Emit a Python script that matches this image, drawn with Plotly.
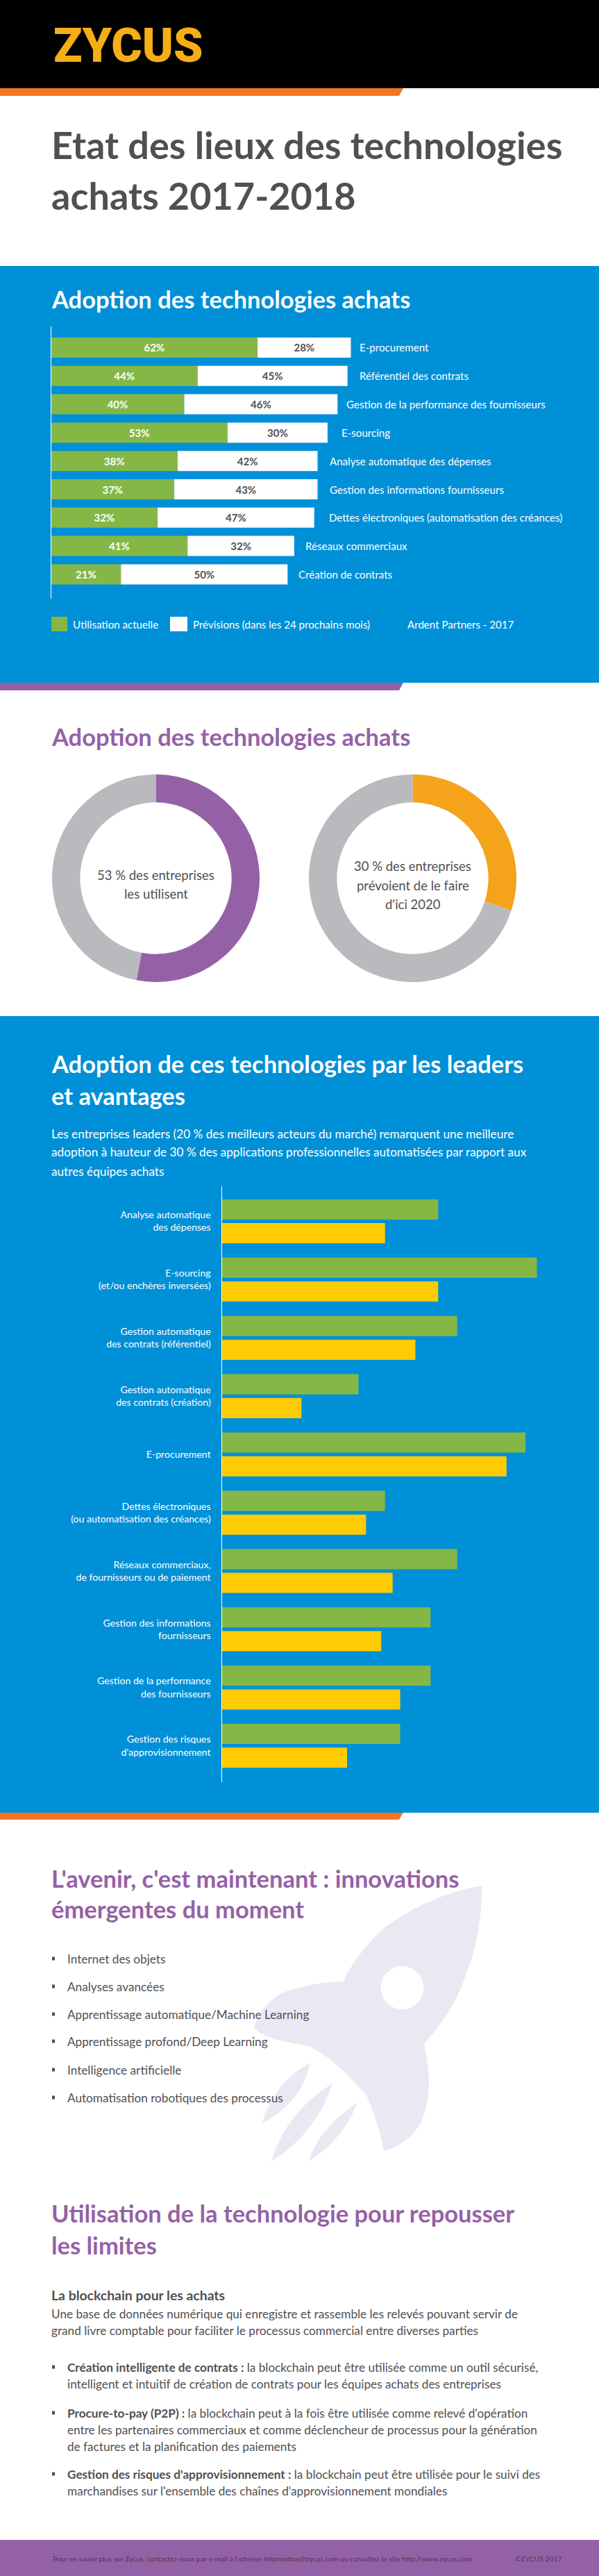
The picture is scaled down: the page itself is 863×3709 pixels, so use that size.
import plotly.graph_objects as go

W, H = 863, 3709
NARROW = "Lato"

# ---------- data ----------
adoption_categories = ["E-procurement", "Référentiel des contrats", "Gestion de la performance des fournisseurs",
                       "E-sourcing", "Analyse automatique des dépenses", "Gestion des informations fournisseurs",
                       "Dettes électroniques (automatisation des créances)", "Réseaux commerciaux", "Création de contrats"]
current_use = [62, 44, 40, 53, 38, 37, 32, 41, 21]
planned_use = [28, 45, 46, 30, 42, 43, 47, 32, 50]

donut_left = [53, 47]
donut_right = [30, 70]

leader_categories = ["Analyse automatique<br>des dépenses", "E-sourcing<br>(et/ou enchères inversées)",
                     "Gestion automatique<br>des contrats (référentiel)", "Gestion automatique<br>des contrats (création)",
                     "E-procurement", "Dettes électroniques<br>(ou automatisation des créances)",
                     "Réseaux commerciaux,<br>de fournisseurs ou de paiement", "Gestion des informations<br>fournisseurs",
                     "Gestion de la performance<br>des fournisseurs", "Gestion des risques<br>d'approvisionnement"]
leaders = [57, 83, 62, 36, 80, 43, 62, 55, 55, 47]
others = [43, 57, 51, 21, 75, 38, 45, 42, 47, 33]

innovations = ["Internet des objets", "Analyses avancées", "Apprentissage automatique/Machine Learning",
               "Apprentissage profond/Deep Learning", "Intelligence artificielle", "Automatisation robotiques des processus"]

# ---------- colours ----------
BLUE = "#0090D7"; GREEN = "#84B746"; YELLOW = "#FFCB05"; ORANGE = "#F47521"
PURPLE = "#9561A6"; GREY = "#B9BABD"; AMBER = "#F4A31A"; DARK = "#505053"; LAV = "#ECE8F3"

T1 = 54    # main title
T2 = 34.5  # section titles
B = 17.2   # body
L = 15.1   # chart labels


def fx(x):
    return x / W


def fy(y):
    return 1 - y / H


shapes = []
ann = []


def rect(x0, y0, x1, y1, color):
    shapes.append(dict(type="rect", xref="paper", yref="paper", x0=fx(x0), x1=fx(x1), y0=fy(y0), y1=fy(y1),
                       fillcolor=color, line_width=0, layer="below"))


def poly(d, color):
    shapes.append(dict(type="path", xref="paper", yref="paper", path=d, fillcolor=color, line_width=0, layer="below"))


def P(x, y):
    return f"{fx(x):.5f},{fy(y):.5f}"


def text(x, y, s, size, color=DARK, bold=False, anchor="left", font=NARROW, weight=None):
    ann.append(dict(xref="paper", yref="paper", x=fx(x), y=fy(y), text=s, showarrow=False, xanchor=anchor,
                    yanchor="middle", borderpad=0, align=anchor,
                    font=dict(family=font, size=size, color=color, weight=weight or (700 if bold else 400))))


def strip(y0, y1, color):
    poly(f"M{P(0,y0)} L{P(581,y0)} L{P(575,y1)} L{P(0,y1)} Z", color)


# ---------- backgrounds ----------
rect(0, 0, W, 127, "#000000")
strip(127, 138, ORANGE)
rect(0, 383, W, 983, BLUE)
strip(983, 994, PURPLE)
rect(0, 1463, W, 2610, BLUE)
strip(2610, 2620, ORANGE)
rect(0, 3657, W, H, PURPLE)

# rocket
poly(f"M{P(694.5,2715)} C{P(650,2722)} {P(590,2745)} {P(545,2783)} C{P(520,2810)} {P(505,2830)} {P(495,2853)} "
     f"C{P(470,2853)} {P(440,2858)} {P(410,2868)} C{P(385,2880)} {P(372,2900)} {P(366,2920)} "
     f"C{P(380,2935)} {P(410,2940)} {P(440,2945)} C{P(470,2955)} {P(500,2985)} {P(528,3017)} "
     f"C{P(540,3045)} {P(548,3070)} {P(553,3097)} C{P(580,3090)} {P(605,3070)} {P(612,3040)} "
     f"C{P(622,3010)} {P(618,2975)} {P(611,2943)} C{P(640,2910)} {P(660,2880)} {P(672,2840)} "
     f"C{P(690,2800)} {P(694,2750)} {P(694.5,2715)} Z", LAV)
shapes.append(dict(type="circle", xref="paper", yref="paper", x0=fx(548.5), x1=fx(610.5), y0=fy(2893), y1=fy(2831),
                   fillcolor="#FFFFFF", line_width=0, layer="below"))
for tip, a, b, c in [((447, 2970), (396, 2997), (377, 3058), (435, 3027)),
                     ((479, 3000), (413, 3040), (390, 3113), (457, 3070)),
                     ((515, 3027), (457, 3067), (445, 3112), (495, 3080))]:
    poly(f"M{P(*tip)} Q{P(*a)} {P(*b)} Q{P(*c)} {P(*tip)} Z", LAV)

# ---------- header ----------
text(76, 66, "ZYCUS", 68, "#F5AE17", True, font="Roboto", weight=900)
text(73, 208, "Etat des lieux des technologies", T1, DARK, True)
text(73, 282, "achats 2017-2018", T1, DARK, True)
text(73, 430, "Adoption des technologies achats", T2, "#FFFFFF", True)

# legend, chart 1
rect(74, 888, 97, 909, GREEN)
rect(245, 888, 270, 909, "#FFFFFF")
text(104, 899, "Utilisation actuelle", L, "#FFFFFF")
text(277, 899, "Prévisions (dans les 24 prochains mois)", L, "#FFFFFF")
text(586, 899, "Ardent Partners - 2017", L, "#FFFFFF")

# section 2
text(73, 1061, "Adoption des technologies achats", T2, PURPLE, True)
text(224.5, 1260, "53 % des entreprises", 18.5, DARK, anchor="center")
text(224.5, 1287, "les utilisent", 18.5, DARK, anchor="center")
text(594.5, 1247, "30 % des entreprises", 18.5, DARK, anchor="center")
text(594.5, 1275, "prévoient de le faire", 18.5, DARK, anchor="center")
text(594.5, 1302, "d'ici 2020", 18.5, DARK, anchor="center")

# section 3
text(73, 1531, "Adoption de ces technologies par les leaders", T2, "#FFFFFF", True)
text(73, 1577, "et avantages", T2, "#FFFFFF", True)
text(73, 1632, "Les entreprises leaders (20 % des meilleurs acteurs du marché) remarquent une meilleure", B, "#FFFFFF")
text(73, 1659, "adoption à hauteur de 30 % des applications professionnelles automatisées par rapport aux", B, "#FFFFFF")
text(73, 1686, "autres équipes achats", B, "#FFFFFF")

# section 4
text(73, 2704, "L'avenir, c'est maintenant : innovations", T2, PURPLE, True)
text(73, 2748, "émergentes du moment", T2, PURPLE, True)
for yc, item in zip([2820, 2860, 2900, 2939, 2980, 3020], innovations):
    rect(75, yc - 2.5, 79, yc + 2.5, DARK)
    text(95.5, yc, item, B)

# section 5
text(73, 3186, "Utilisation de la technologie pour repousser", T2, PURPLE, True)
text(73, 3232, "les limites", T2, PURPLE, True)
text(73, 3304, "La blockchain pour les achats", 19.4, DARK, True)
text(73, 3331, "Une base de données numérique qui enregistre et rassemble les relevés pouvant servir de", B)
text(73, 3355, "grand livre comptable pour faciliter le processus commercial entre diverses parties", B)
for yc in [3408, 3474, 3562]:
    rect(75, yc - 2.5, 79, yc + 2.5, DARK)
text(95.5, 3408, "<b>Création intelligente de contrats :</b> la blockchain peut être utilisée comme un outil sécurisé,", B)
text(95.5, 3432, "intelligent et intuitif de création de contrats pour les équipes achats des entreprises", B)
text(95.5, 3474, "<b>Procure-to-pay (P2P) :</b> la blockchain peut à la fois être utilisée comme relevé d'opération", B)
text(95.5, 3498, "entre les partenaires commerciaux et comme déclencheur de processus pour la génération", B)
text(95.5, 3522, "de factures et la planification des paiements", B)
text(95.5, 3562, "<b>Gestion des risques d'approvisionnement :</b> la blockchain peut être utilisée pour le suivi des", B)
text(95.5, 3586, "marchandises sur l'ensemble des chaînes d'approvisionnement mondiales", B)
text(75, 3684, "Pour en savoir plus sur Zycus, contactez-nous par e-mail à l'adresse information@zycus.com ou consultez le site http://www.zycus.com", 10.3, "#4A3A55")
text(741, 3684, "©ZYCUS 2017", 10.3, "#4A3A55")

# ---------- figure ----------
fig = go.Figure()

# chart 1: stacked through the base of the second series
fig.add_trace(go.Bar(y=adoption_categories, x=current_use, orientation="h", width=0.71, marker=dict(color=GREEN, line_width=0),
                     text=[f"{v}%" for v in current_use], textposition="inside", insidetextanchor="middle", textangle=0,
                     constraintext="none", insidetextfont=dict(family=NARROW, size=15, weight=700, color="#FFFFFF"),
                     xaxis="x", yaxis="y", showlegend=False))
fig.add_trace(go.Bar(y=adoption_categories, x=planned_use, base=current_use, orientation="h", width=0.71,
                     marker=dict(color="#FFFFFF", line_width=0),
                     text=[f"{v}%" for v in planned_use], textposition="inside", insidetextanchor="middle", textangle=0,
                     constraintext="none", insidetextfont=dict(family=NARROW, size=15, weight=700, color=DARK),
                     xaxis="x", yaxis="y", showlegend=False))
label_gaps = [10, 15, 11, 18, 15, 15, 19, 14, 14]
for cat, a, b, gap in zip(adoption_categories, current_use, planned_use, label_gaps):
    ann.append(dict(xref="x", yref="y", x=a + b, y=cat, xshift=gap, text=cat, showarrow=False, xanchor="left",
                    yanchor="middle", font=dict(family=NARROW, size=L, color="#FFFFFF")))

# donuts
fig.add_trace(go.Pie(values=donut_left, labels=["Utilisent", "Autres"], sort=False, direction="clockwise", rotation=0, hole=0.73,
                     marker=dict(colors=[PURPLE, GREY], line_width=0), textinfo="none", showlegend=False,
                     domain=dict(x=[fx(75), fx(374)], y=[fy(1414), fy(1115)])))
fig.add_trace(go.Pie(values=donut_right, labels=["Prévoient", "Autres"], sort=False, direction="clockwise", rotation=0, hole=0.73,
                     marker=dict(colors=[AMBER, GREY], line_width=0), textinfo="none", showlegend=False,
                     domain=dict(x=[fx(445), fx(744)], y=[fy(1414), fy(1115)])))

# chart 2
fig.add_trace(go.Bar(y=leader_categories, x=leaders, orientation="h", width=0.346, offset=-0.375,
                     marker=dict(color=GREEN, line_width=0), xaxis="x2", yaxis="y2", showlegend=False))
fig.add_trace(go.Bar(y=leader_categories, x=others, orientation="h", width=0.346, offset=0.033,
                     marker=dict(color=YELLOW, line_width=0), xaxis="x2", yaxis="y2", showlegend=False))

fig.update_layout(
    width=W, height=H, margin=dict(l=0, r=0, t=0, b=0), autosize=False,
    paper_bgcolor="#FFFFFF", plot_bgcolor="rgba(0,0,0,0)", barmode="overlay",
    shapes=shapes, annotations=ann,
    xaxis=dict(domain=[fx(73.5), 1], range=[0, (W - 73.5) / 4.8], visible=False, fixedrange=True),
    yaxis=dict(domain=[fy(862), fy(470)], range=[8.86, -0.7475], type="category", anchor="x", showticklabels=False,
               showgrid=False, zeroline=False, showline=True, linecolor="#FFFFFF", linewidth=1, ticks=""),
    xaxis2=dict(domain=[fx(319.5), 1], range=[0, (W - 319.5) / 5.47], visible=False, fixedrange=True, anchor="y2"),
    yaxis2=dict(domain=[fy(2566), fy(1708)], range=[9.625, -0.60], type="category", anchor="x2",
                showgrid=False, zeroline=False, showline=True, linecolor="#FFFFFF", linewidth=1, ticks="outside",
                ticklen=12, tickcolor="rgba(0,0,0,0)", tickfont=dict(family=NARROW, size=14.1, color="#FFFFFF")),
)

fig.write_html("out.html", config={"displayModeBar": False}, post_script="document.body.style.margin='0';")
